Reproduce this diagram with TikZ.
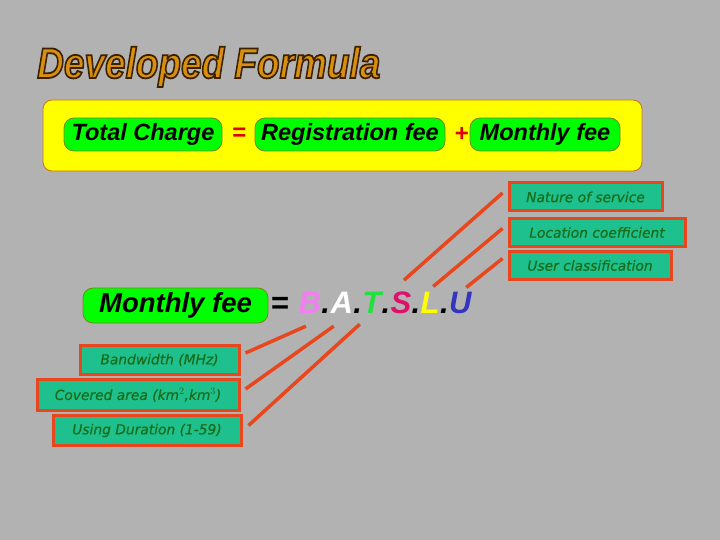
\documentclass[tikz,border=0pt]{standalone}
\usepackage{fontspec}
\setmainfont{Liberation Sans}
\newfontfamily\factorfont[ItalicFeatures={FakeBold=0.8}]{DejaVu Sans}
\usepackage{tikz}
\usetikzlibrary{positioning}
\definecolor{slate}{HTML}{B2B2B2}
\definecolor{amber}{HTML}{D8900E}
\definecolor{amberrim}{HTML}{3A2200}
\definecolor{lemon}{HTML}{FFFF00}
\definecolor{lemonrim}{HTML}{D0701A}
\definecolor{pillgreen}{HTML}{00FF00}
\definecolor{pillrim}{HTML}{76861A}
\definecolor{opred}{HTML}{E00000}
\definecolor{tealbox}{HTML}{1EC08E}
\definecolor{linkred}{HTML}{E8461C}
\definecolor{darkleaf}{HTML}{1A6E1A}
\definecolor{cb}{HTML}{F080F0}
\definecolor{ct}{HTML}{22E040}
\definecolor{cs}{HTML}{E0106A}
\definecolor{cu}{HTML}{3434C0}

\begin{document}
\begin{tikzpicture}[x=1pt, y=-1pt,
  pill/.style={draw=pillrim, fill=pillgreen, rounded corners=10pt, line width=0.8pt,
    inner sep=0pt, minimum height=33pt, font=\fontsize{23.5}{28}\selectfont\bfseries\itshape},
  factor/.style={draw=linkred, fill=tealbox, line width=3pt, inner sep=0pt,
    minimum height=28pt, text=darkleaf, font=\factorfont\fontsize{13.8}{16}\selectfont\itshape},
  letter/.style={inner sep=0pt, font=\fontsize{31}{36}\selectfont\bfseries\itshape},
  link/.style={draw=linkred, line width=3.5pt}]

  \useasboundingbox[fill=slate] (0,0) rectangle (720,540);

  % heading
  \node[anchor=base west, inner sep=0pt, text=amber, font=\fontsize{43}{48}\selectfont\bfseries\itshape] (title) at (37,78)
    {\scalebox{0.86}[1]{\special{pdf:code 2 Tr 1.8 w 0.23 0.13 0 RG}Developed Formula\special{pdf:code 0 Tr}}};

  % total charge
  \node[draw=lemonrim, fill=lemon, rounded corners=9pt, line width=0.8pt, minimum width=599pt, minimum height=71pt] (frame) at (342.5,135.5) {};
  \node[pill, minimum width=158pt] (total) at (143,134.5) {Total Charge};
  \node[text=opred, font=\fontsize{24}{28}\selectfont\bfseries] (eq) at (239.5,134) {=};
  \node[pill, minimum width=190pt] (reg) at (350,134.5) {Registration fee};
  \node[text=opred, font=\fontsize{24}{28}\selectfont\bfseries] (plus) at (462,134) {+};
  \node[pill, minimum width=150pt] (month) at (545,134.5) {Monthly fee};

  % factors of the monthly fee
  \node[factor, minimum width=153pt] (nature) at (585.5,197) {Nature of service};
  \node[factor, minimum width=176pt] (location) at (597,232.5) {Location coefficient};
  \node[factor, minimum width=162pt] (user) at (590,265.5) {User classification};

  \node[pill, minimum width=185pt, minimum height=35pt, font=\fontsize{27.5}{32}\selectfont\bfseries\itshape] (fee) at (175.5,305.5) {Monthly fee};
  \node[letter, anchor=base west, font=\fontsize{31}{36}\selectfont\bfseries] (eqm) at (271,313) {=};
  \node[letter, text=cb, base right=9pt of eqm] (B) {B};
  \node[letter, base right=0pt of B] (d1) {.};
  \node[letter, text=white, base right=0pt of d1] (A) {A};
  \node[letter, base right=0pt of A] (d2) {.};
  \node[letter, text=ct, base right=0pt of d2] (T) {T};
  \node[letter, base right=0pt of T] (d3) {.};
  \node[letter, text=cs, base right=0pt of d3] (S) {S};
  \node[letter, base right=0pt of S] (d4) {.};
  \node[letter, text=lemon, base right=0pt of d4] (L) {L};
  \node[letter, base right=0pt of L] (d5) {.};
  \node[letter, text=cu, base right=0pt of d5] (U) {U};

  \node[factor, minimum width=159pt, minimum height=29pt] (band) at (159.5,360) {Bandwidth (MHz)};
  \node[factor, minimum width=202pt, minimum height=31pt] (area) at (138,395) {Covered area (km$^2$,km$^3$)};
  \node[factor, minimum width=188pt, minimum height=30pt] (dur) at (147,430.5) {Using Duration (1-59)};

  % links
  \draw[link] ([xshift=3pt, yshift=11pt]S.north) -- ([xshift=-5pt, yshift=4pt]nature.west);
  \draw[link] ([xshift=3pt, yshift=5pt]L.north) -- ([xshift=-5pt, yshift=4pt]location.west);
  \draw[link] ([xshift=6pt, yshift=4pt]U.north) -- ([xshift=-5pt, yshift=7pt]user.west);
  \draw[link] ([xshift=-4pt, yshift=-13pt]B.south) -- ([xshift=5pt, yshift=7pt]band.east);
  \draw[link] ([xshift=-8pt, yshift=-13pt]A.south) -- ([xshift=5pt, yshift=6pt]area.east);
  \draw[link] ([xshift=-12pt, yshift=-11pt]T.south) -- ([xshift=6pt, yshift=5pt]dur.east);
\end{tikzpicture}
\end{document}
